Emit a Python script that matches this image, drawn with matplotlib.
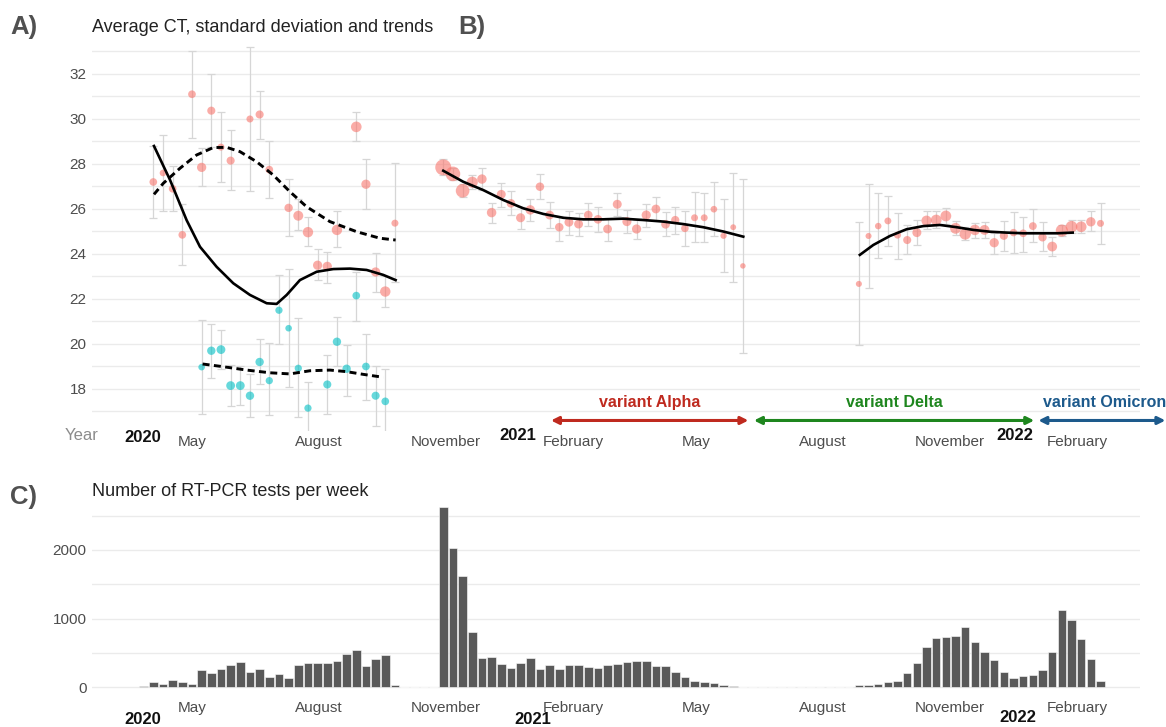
import numpy as np
import pandas as pd
import matplotlib
matplotlib.use("Agg")
import matplotlib.pyplot as plt

plt.rcParams["font.family"] = ["Liberation Sans", "DejaVu Sans"]

# ── data ------------------------------------------------------------------- #
first_week = pd.Timestamp("2020-03-27")          # centre of week 1

# number of RT-PCR tests, weeks 1..100
tests_per_week = [
    10, 73, 40, 107, 73, 40, 244, 205, 268, 327,
    366, 220, 258, 146, 185, 127, 327, 351, 351, 356,
    376, 478, 541, 302, 415, 468, 34, 0, 0, 0,
    0, 2634, 2024, 1620, 805, 424, 439, 341, 278, 356,
    429, 268, 317, 268, 327, 327, 293, 283, 317, 341,
    366, 385, 385, 307, 302, 220, 146, 83, 78, 59,
    34, 15, 5, 5, 2, 0, 3, 3, 3, 3,
    3, 0, 3, 3, 24, 24, 49, 78, 93, 205,
    346, 590, 717, 727, 746, 878, 659, 512, 400, 224,
    132, 156, 171, 244, 507, 1122, 971, 702, 415, 83,
]

# panel A, 2020 - group 1 (red)
a1_week = [2, 3, 4, 5, 6, 7, 8, 9, 10, 12, 13, 14, 16, 17, 18, 19, 20, 21, 23, 24, 25, 26, 27]
a1_ct = [27.2, 27.6, 26.9, 24.85, 31.1, 27.85, 30.37, 28.75, 28.15, 30.0, 30.2, 27.75,
         26.05, 25.7, 24.97, 23.5, 23.45, 25.07, 29.65, 27.1, 23.2, 22.33, 25.37]
a1_lo = [25.6, 25.9, 25.9, 23.5, 29.15, 27.0, 28.75, 27.2, 26.85, 26.8, 29.1, 26.5,
         24.8, 25.05, 24.35, 22.85, 22.7, 24.3, 29.0, 26.0, 22.3, 21.65, 22.75]
a1_hi = [28.8, 29.3, 27.9, 26.2, 33.0, 28.7, 32.0, 30.3, 29.5, 33.2, 31.25, 29.0,
         27.35, 26.45, 25.65, 24.2, 24.1, 25.93, 30.3, 28.2, 24.05, 23.0, 28.05]
a1_n = [158, 54, 158, 158, 158, 395, 210, 90, 210, 90, 210, 158,
        247, 530, 633, 395, 395, 633, 690, 395, 395, 633, 90]

# panel A, 2020 - group 2 (blue)
a2_week = [7, 8, 9, 10, 11, 12, 13, 14, 15, 16, 17, 18, 20, 21, 22, 23, 24, 25, 26]
a2_ct = [18.97, 19.7, 19.75, 18.15, 18.15, 17.7, 19.2, 18.37, 21.5, 20.7, 18.92, 17.15,
         18.2, 20.1, 18.9, 22.15, 19.0, 17.7, 17.45]
a2_lo = [16.9, 18.5, 18.9, 17.25, 17.3, 16.75, 18.2, 16.85, 20.0, 18.1, 16.75, 16.0,
         16.9, 19.0, 17.7, 21.0, 17.5, 16.35, 16.0]
a2_hi = [21.05, 20.9, 20.6, 19.05, 19.0, 18.65, 20.2, 20.05, 23.05, 23.35, 21.15, 18.3,
         19.5, 21.2, 19.95, 23.2, 20.45, 19.0, 18.9]
a2_n = [54, 247, 317, 317, 317, 247, 247, 110, 110, 54, 110, 110,
        210, 247, 247, 158, 158, 210, 158]

# panel B, winter 2020-21 (weeks 32..63)
b_week = list(range(32, 64))
b_ct = [27.85, 27.56, 26.81, 27.19, 27.33, 25.84, 26.65, 26.25, 25.61, 25.96, 26.99, 25.73,
        25.19, 25.41, 25.33, 25.73, 25.54, 25.11, 26.21, 25.44, 25.11, 25.73, 26.0, 25.32,
        25.51, 25.14, 25.61, 25.61, 25.99, 24.81, 25.19, 23.47]
b_lo = [27.5, 27.3, 26.55, 26.9, 26.85, 25.39, 26.1, 25.73, 25.1, 25.48, 26.43, 25.14,
        24.59, 24.84, 24.81, 25.24, 24.98, 24.59, 25.69, 24.92, 24.65, 25.21, 25.51, 24.8,
        24.89, 24.36, 24.52, 24.52, 24.8, 23.21, 22.77, 19.59]
b_hi = [28.2, 27.8, 27.1, 27.5, 27.81, 26.28, 27.14, 26.8, 26.1, 26.43, 27.56, 26.33,
        25.69, 25.93, 25.84, 26.25, 26.07, 25.59, 26.7, 25.96, 25.51, 26.22, 26.52, 25.88,
        26.1, 25.91, 26.74, 26.7, 27.19, 26.43, 27.61, 27.33]

# panel B, autumn 2021 - winter 2022 (weeks 75..100)
c_week = list(range(75, 101))
c_ct = [22.67, 24.8, 25.24, 25.47, 24.84, 24.62, 24.95, 25.48, 25.51, 25.69, 25.14, 24.89,
        25.07, 25.07, 24.5, 24.81, 24.95, 24.92, 25.24, 24.74, 24.33, 25.04, 25.21, 25.21,
        25.43, 25.36]
c_lo = [19.95, 22.5, 23.81, 24.36, 23.76, 24.0, 24.4, 25.1, 25.15, 25.35, 24.85, 24.6,
        24.7, 24.7, 24.0, 24.15, 24.03, 24.1, 24.55, 24.15, 23.91, 24.8, 24.95, 24.95,
        25.04, 24.44]
c_hi = [25.4, 27.11, 26.7, 26.58, 25.84, 25.29, 25.51, 25.9, 25.9, 26.05, 25.45, 25.2,
        25.36, 25.44, 24.92, 25.48, 25.85, 25.66, 25.99, 25.41, 24.74, 25.3, 25.5, 25.5,
        25.93, 26.25]

# smoothed trends (week number, CT)
trend_all_w = [2.07, 3.72, 5.45, 6.83, 8.55, 10.27, 12.0, 13.73, 14.76, 15.8, 17.17,
               18.9, 20.62, 22.35, 24.07, 25.79, 27.07]
trend_all_ct = [28.8, 27.3, 25.5, 24.32, 23.43, 22.7, 22.18, 21.81, 21.78, 22.18, 22.84,
                23.21, 23.33, 23.35, 23.29, 23.07, 22.84]
trend_a1_w = [2.07, 3.03, 4.76, 6.48, 8.2, 9.59, 10.96, 12.69, 14.41, 16.13, 17.86,
              20.27, 23.04, 25.45, 27.07]
trend_a1_ct = [26.65, 27.14, 27.81, 28.4, 28.73, 28.74, 28.55, 28.1, 27.51, 26.77, 26.1,
               25.44, 24.99, 24.7, 24.62]
trend_a2_w = [7.1, 9.24, 11.66, 14.07, 16.13, 18.21, 20.27, 22.0, 23.72, 25.79]
trend_a2_ct = [19.11, 18.99, 18.84, 18.72, 18.67, 18.81, 18.84, 18.77, 18.65, 18.52]
trend_b_w = [32.0, 34.07, 36.14, 38.21, 40.28, 42.35, 44.41, 46.48, 48.55, 50.62,
             52.69, 54.76, 56.83, 58.9, 60.97, 63.04]
trend_b_ct = [27.7, 27.21, 26.84, 26.4, 26.03, 25.78, 25.61, 25.54, 25.54, 25.57,
              25.51, 25.44, 25.33, 25.19, 25.0, 24.77]
trend_c_w = [75.1, 76.49, 78.21, 79.94, 81.66, 83.39, 85.12, 86.84, 88.57, 90.29,
             92.01, 93.74, 95.47, 97.12]
trend_c_ct = [23.96, 24.4, 24.8, 25.1, 25.24, 25.29, 25.19, 25.07, 24.99, 24.95,
              24.92, 24.92, 24.92, 24.95]

month_ticks = ["2020-05-01", "2020-08-01", "2020-11-01", "2021-02-01",
               "2021-05-01", "2021-08-01", "2021-11-01", "2022-02-01"]
month_labels = ["May", "August", "November", "February",
                "May", "August", "November", "February"]

variants = ["variant Alpha", "variant Delta", "variant Omicron"]
variant_start = ["2021-01-16", "2021-06-12", "2022-01-04"]
variant_end = ["2021-06-08", "2022-01-01", "2022-04-06"]


def wdate(w):
    return first_week + pd.to_timedelta((np.asarray(w, dtype=float) - 1) * 7, unit="D")


def msize(n):
    d_px = 5.0 + 11.0 * np.sqrt(np.asarray(n, dtype=float) / max(tests_per_week))
    return (d_px * 0.72) ** 2


RED, BLUE = "#F8766D", "#00BFC4"
GRID = "#EBEBEB"
TXT = "#4D4D4D"

fig = plt.figure(figsize=(11.66, 7.27), dpi=100)
W, H = 1166, 727
ax1 = fig.add_axes([92 / W, 1 - 430.6 / H, 1048 / W, 385.85 / H])
ax2 = fig.add_axes([92 / W, 1 - 693.9 / H, 1048 / W, 191.9 / H])

may1 = pd.Timestamp("2020-05-01")
xlim = (may1 - pd.Timedelta(days=72.4), may1 + pd.Timedelta(days=686.6))

# ── panel A/B: average CT ----------------------------------------------------- #
err_kw = dict(fmt="none", ecolor="#D6D6D6", elinewidth=0.9, capsize=3, capthick=0.9, zorder=1)
for wk, ct, lo, hi in [(a1_week, a1_ct, a1_lo, a1_hi), (a2_week, a2_ct, a2_lo, a2_hi),
                       (b_week, b_ct, b_lo, b_hi), (c_week, c_ct, c_lo, c_hi)]:
    ct, lo, hi = np.array(ct), np.array(lo), np.array(hi)
    ax1.errorbar(wdate(wk), ct, yerr=[ct - lo, hi - ct], **err_kw)

ax1.scatter(wdate(a1_week), a1_ct, s=msize(a1_n), color=RED, alpha=0.6, lw=0, zorder=2)
ax1.scatter(wdate(a2_week), a2_ct, s=msize(a2_n), color=BLUE, alpha=0.6, lw=0, zorder=2)
b_n = [tests_per_week[w - 1] for w in b_week]
c_n = [tests_per_week[w - 1] for w in c_week]
ax1.scatter(wdate(b_week), b_ct, s=msize(b_n), color=RED, alpha=0.6, lw=0, zorder=2)
ax1.scatter(wdate(c_week), c_ct, s=msize(c_n), color=RED, alpha=0.6, lw=0, zorder=2)

ax1.plot(wdate(trend_all_w), trend_all_ct, color="black", lw=1.9, zorder=3)
ax1.plot(wdate(trend_a1_w), trend_a1_ct, color="black", lw=2.1, ls=(0, (2.4, 1.5)), zorder=3)
ax1.plot(wdate(trend_a2_w), trend_a2_ct, color="black", lw=2.1, ls=(0, (2.4, 1.5)), zorder=3)
ax1.plot(wdate(trend_b_w), trend_b_ct, color="black", lw=1.9, zorder=3)
ax1.plot(wdate(trend_c_w), trend_c_ct, color="black", lw=1.9, zorder=3)

ax1.set_ylim(16.15, 33.3)
ax1.set_yticks(range(18, 33, 2))
ax1.set_yticks(range(17, 34), minor=True)

# variant arrows
vcol = ["#BF2A1F", "#1E861E", "#1D5A8C"]
for name, s, e, col in zip(variants, variant_start, variant_end, vcol):
    s, e = pd.Timestamp(s), pd.Timestamp(e)
    ax1.annotate("", xy=(e, 16.6), xytext=(s, 16.6), annotation_clip=False,
                 arrowprops=dict(arrowstyle="<|-|>", color=col, lw=2.2,
                                 mutation_scale=11, shrinkA=0, shrinkB=0, clip_on=False))
    if name.endswith("Omicron"):
        ax1.text(s + pd.Timedelta(days=3), 17.38, name, color=col, fontsize=11.5,
                 fontweight="bold", ha="left", va="center", clip_on=False)
    else:
        ax1.text(s + (e - s) / 2, 17.38, name, color=col, fontsize=11.5,
                 fontweight="bold", ha="center", va="center")

# ── panel C: tests per week -------------------------------------------------- #
ax2.bar(wdate(range(1, 101)), tests_per_week, width=6.2, color="#595959",
        edgecolor="white", linewidth=0.4, zorder=2)
ax2.set_ylim(-100, 2700)
ax2.set_yticks([0, 1000, 2000])
ax2.set_yticks([500, 1500, 2500], minor=True)

for ax, pad in [(ax1, 3), (ax2, 5)]:
    ax.set_xlim(xlim)
    ax.set_xticks(pd.to_datetime(month_ticks))
    ax.set_xticklabels(month_labels)
    ax.grid(which="both", axis="y", color=GRID, lw=1.0, zorder=0)
    ax.set_axisbelow(True)
    for sp in ax.spines.values():
        sp.set_visible(False)
    ax.tick_params(which="both", length=0)
    ax.tick_params(axis="x", pad=pad, labelsize=11, labelcolor=TXT)
    ax.tick_params(axis="y", pad=4, labelsize=11, labelcolor=TXT)

# ── labels ------------------------------------------------------------------ #
def ftxt(x, y, s, **kw):
    fig.text(x / W, 1 - y / H, s, va="center", **kw)

ftxt(10, 27, "A)", fontsize=18.5, fontweight="bold", color="#505050")
ftxt(458, 27, "B)", fontsize=18.5, fontweight="bold", color="#505050")
ftxt(10, 497, "C)", fontsize=18.5, fontweight="bold", color="#505050")
ftxt(92, 27, "Average CT, standard deviation and trends", fontsize=13, color="#222222")
ftxt(92, 492, "Number of RT-PCR tests per week", fontsize=13, color="#222222")

ftxt(82, 436, "Year", fontsize=12, color="#8C8C8C", ha="center")
for x, y, s in [(143, 437, "2020"), (518, 435, "2021"), (1015, 436, "2022"),
                (143, 719, "2020"), (533, 719, "2021"), (1018, 718, "2022")]:
    ftxt(x, y, s, fontsize=12, fontweight="bold", color="#111111", ha="center")

fig.savefig("out.png", dpi=100)
